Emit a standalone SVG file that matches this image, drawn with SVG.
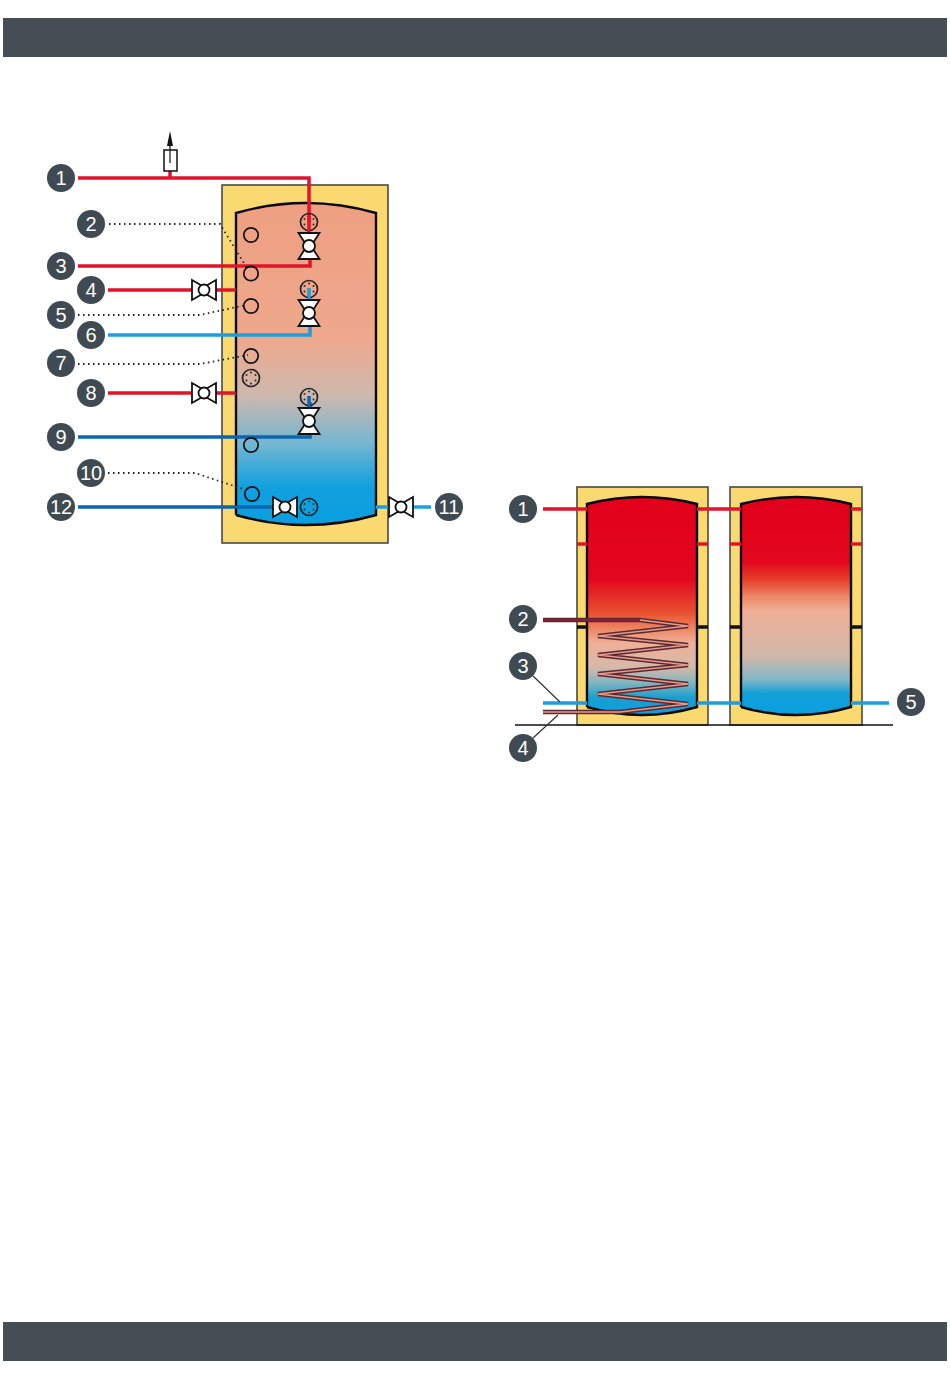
<svg xmlns="http://www.w3.org/2000/svg" width="950" height="1379" viewBox="0 0 950 1379">
<style>
.bar{fill:#454d55}
.ins{fill:#fbd971;stroke:#4a4a42;stroke-width:1.6}
.shell{stroke:#0a0a0a;stroke-width:2.4}
.p{fill:none;stroke-width:3.500}
.red{stroke:#e2142d}.blue{stroke:#1c9fdc}.dblue{stroke:#0a66ae}
.dot{fill:none;stroke:#222;stroke-width:1.800;stroke-dasharray:1.500 3.500}
.port{fill:none;stroke:#111;stroke-width:1.700}
.val{fill:#fff;stroke:#111;stroke-width:1.800;stroke-linejoin:miter}
.hd{fill:#111}
.bt{fill:#3f4a52}
.tx{fill:#fff;font-family:"Liberation Sans",Arial,sans-serif;font-size:20px;text-anchor:middle}
.lead{stroke:#333;stroke-width:1.2;fill:none}
</style>
<defs>
<linearGradient id="g1" gradientUnits="userSpaceOnUse" x1="0" y1="203" x2="0" y2="525">
<stop offset="0" stop-color="#ee9f82"/><stop offset=".42" stop-color="#efa88c"/><stop offset=".6" stop-color="#cdb8ae"/><stop offset=".75" stop-color="#72b6d2"/><stop offset=".88" stop-color="#12a0de"/><stop offset="1" stop-color="#0a9fe0"/>
</linearGradient>
<linearGradient id="g2" gradientUnits="userSpaceOnUse" x1="0" y1="497" x2="0" y2="715">
<stop offset="0" stop-color="#e2001a"/><stop offset=".38" stop-color="#e2081e"/><stop offset=".53" stop-color="#e8502e"/><stop offset=".61" stop-color="#ee8a68"/><stop offset=".67" stop-color="#f0b098"/><stop offset=".78" stop-color="#d6b8aa"/><stop offset=".85" stop-color="#84b6c0"/><stop offset=".92" stop-color="#18a0d0"/><stop offset="1" stop-color="#0a9fe0"/>
</linearGradient>
<linearGradient id="g3" gradientUnits="userSpaceOnUse" x1="0" y1="497" x2="0" y2="715">
<stop offset="0" stop-color="#e2001a"/><stop offset=".3" stop-color="#e2081e"/><stop offset=".38" stop-color="#e6402a"/><stop offset=".46" stop-color="#ec8a68"/><stop offset=".52" stop-color="#f0ae96"/><stop offset=".73" stop-color="#d0b8aa"/><stop offset=".84" stop-color="#80b6c8"/><stop offset=".9" stop-color="#12a0d8"/><stop offset="1" stop-color="#0a9fe0"/>
</linearGradient>
<g id="vh"><path class="val" d="M-12 -10L0 -3L12 -10L12 10L0 3L-12 10Z"/><circle class="val" r="5.500"/></g>
<g id="vv"><path class="val" d="M-10.500 -13L10.500 -13L4 -3L4 3L10.500 13L-10.500 13L-4 3L-4 -3Z"/><circle class="val" r="6"/></g>
<g id="coil"><circle r="8.500" fill="none" stroke="#222" stroke-width="1.700"/><g fill="#3a2a2a"><circle cy="-5.500" r="1"/><circle cx="4.500" cy="-3" r="1"/><circle cx="4.500" cy="2.500" r="1"/><circle cy="5.500" r="1"/><circle cx="-4.500" cy="2.500" r="1"/><circle cx="-4.500" cy="-3" r="1"/></g></g>
</defs>

<rect id="header" class="bar" x="3" y="18" width="944" height="39"/>
<rect id="footer" class="bar" x="3" y="1322" width="944" height="39"/>

<g id="tank-left">
<rect class="ins" x="222" y="185" width="166" height="358"/>
<path d="M236 213Q306 193 376 213L376 515Q306 535 236 515Z" fill="url(#g1)"/>
<path class="shell" fill="none" d="M236 515L236 213Q306 193 376 213L376 515Q306 535 236 515"/>
</g>
<g id="tank-a">
<rect class="ins" x="577" y="487" width="131" height="238"/>
<path d="M587 504Q642 490 697 504L697 707Q642 723 587 707Z" fill="url(#g2)"/>
<path class="shell" fill="none" d="M587 707L587 504Q642 490 697 504L697 707Q642 723 587 707"/>
<path stroke="#111" stroke-width="3.500" d="M577 627H587M697 627H708"/>
</g>
<g id="tank-b">
<rect class="ins" x="730" y="487" width="132" height="238"/>
<path d="M741 504Q796 490 851 504L851 707Q796 723 741 707Z" fill="url(#g3)"/>
<path class="shell" fill="none" d="M741 707L741 504Q796 490 851 504L851 707Q796 723 741 707"/>
<path stroke="#111" stroke-width="3.500" d="M730 627H741M851 627H862"/>
</g>

<g id="connectors">
<path stroke="#111" stroke-width="1.600" d="M515 725H893"/>
<path class="p red" d="M78 178H309V222"/>
<path class="p red" d="M170 178V171"/>
<path class="p red" d="M78 266H310V255"/>
<path class="p red" d="M108 290H192M216 290H236"/>
<path class="p blue" d="M108 335H310V298"/>
<path class="p red" d="M108 393H192M216 393H236"/>
<path class="p dblue" d="M78 437H310V402"/>
<path class="p dblue" d="M78 507H274"/>
<path class="p blue" d="M376 507H431"/>
<path class="dot" d="M109 224H220L247 268"/>
<path class="dot" d="M78 315H200L246 305"/>
<path class="dot" d="M78 364H200L248 355"/>
<path class="dot" d="M108 473H195L246 490"/>
<path class="p red" d="M543 509H587M697 509H741M851 509H862"/>
<path class="p red" d="M577 544H587M697 544H708M730 544H741M851 544H862"/>
<path class="p blue" d="M543 703H587M697 703H741M851 703H889"/>
<path class="lead" d="M533 676L560 702M533 738L558 715"/>
<path fill="none" stroke="#5a2a30" stroke-width="4.400" stroke-linejoin="miter" d="M543 620H640L688 626L598 636L688 645L598 655L688 665L598 674L688 684L598 694L688 704L620 712H543"/>
<path fill="none" stroke="#e79a8c" stroke-width="1.500" d="M543 620H640L688 626L598 636L688 645L598 655L688 665L598 674L688 684L598 694L688 704L620 712H543"/>
<path fill="none" stroke="#8a1f3c" stroke-width="2" d="M543 620H640"/>
</g>

<g id="vent">
<rect x="164" y="150" width="13" height="21" fill="#fff" stroke="#111" stroke-width="1.500"/>
<path stroke="#111" stroke-width="1.200" d="M170 163V140"/>
<path class="hd" d="M170 131L173 146H167Z"/>
</g>

<g id="ports">
<circle class="port" cx="251" cy="235" r="7.200"/>
<circle class="port" cx="251" cy="273.500" r="7.200"/>
<circle class="port" cx="251" cy="306" r="7.200"/>
<circle class="port" cx="251" cy="356" r="7.200"/>
<circle class="port" cx="251" cy="445" r="7.200"/>
<circle class="port" cx="252" cy="494" r="7.200"/>
<use href="#coil" x="251" y="378"/>
<use href="#coil" x="309" y="222"/>
<use href="#coil" x="309" y="289"/>
<use href="#coil" x="309" y="397"/>
<use href="#coil" x="309" y="507"/>
</g>
<g id="stubs">
<path class="p red" d="M309 215V233"/>
<path class="p blue" d="M309 288V302"/>
<path class="p dblue" d="M309 396V410"/>
</g>
<g id="valves">
<use href="#vv" x="309" y="246"/>
<use href="#vv" x="309" y="313"/>
<use href="#vv" x="309" y="421"/>
<use href="#vh" x="204" y="290"/>
<use href="#vh" x="204" y="393"/>
<use href="#vh" x="285" y="507"/>
<use href="#vh" x="401" y="507"/>
</g>

<g id="n1"><circle class="bt" cx="61" cy="178" r="14"/><text class="tx" x="61" y="185">1</text></g>
<g id="n2"><circle class="bt" cx="91" cy="224" r="14"/><text class="tx" x="91" y="231">2</text></g>
<g id="n3"><circle class="bt" cx="61" cy="266" r="14"/><text class="tx" x="61" y="273">3</text></g>
<g id="n4"><circle class="bt" cx="91" cy="290" r="14"/><text class="tx" x="91" y="297">4</text></g>
<g id="n5"><circle class="bt" cx="61" cy="315" r="14"/><text class="tx" x="61" y="322">5</text></g>
<g id="n6"><circle class="bt" cx="91" cy="335" r="14"/><text class="tx" x="91" y="342">6</text></g>
<g id="n7"><circle class="bt" cx="61" cy="363" r="14"/><text class="tx" x="61" y="370">7</text></g>
<g id="n8"><circle class="bt" cx="91" cy="393" r="14"/><text class="tx" x="91" y="400">8</text></g>
<g id="n9"><circle class="bt" cx="61" cy="437" r="14"/><text class="tx" x="61" y="444">9</text></g>
<g id="n10"><circle class="bt" cx="91" cy="473" r="14"/><text class="tx" x="91" y="480">10</text></g>
<g id="n12"><circle class="bt" cx="61" cy="507" r="14"/><text class="tx" x="61" y="514">12</text></g>
<g id="n11"><circle class="bt" cx="449" cy="507" r="14"/><text class="tx" x="449" y="514">11</text></g>
<g id="m1"><circle class="bt" cx="523" cy="509" r="14"/><text class="tx" x="523" y="516">1</text></g>
<g id="m2"><circle class="bt" cx="523" cy="619" r="14"/><text class="tx" x="523" y="626">2</text></g>
<g id="m3"><circle class="bt" cx="523" cy="666" r="14"/><text class="tx" x="523" y="673">3</text></g>
<g id="m4"><circle class="bt" cx="523" cy="748" r="14"/><text class="tx" x="523" y="755">4</text></g>
<g id="m5"><circle class="bt" cx="911" cy="702" r="14"/><text class="tx" x="911" y="709">5</text></g>
</svg>
